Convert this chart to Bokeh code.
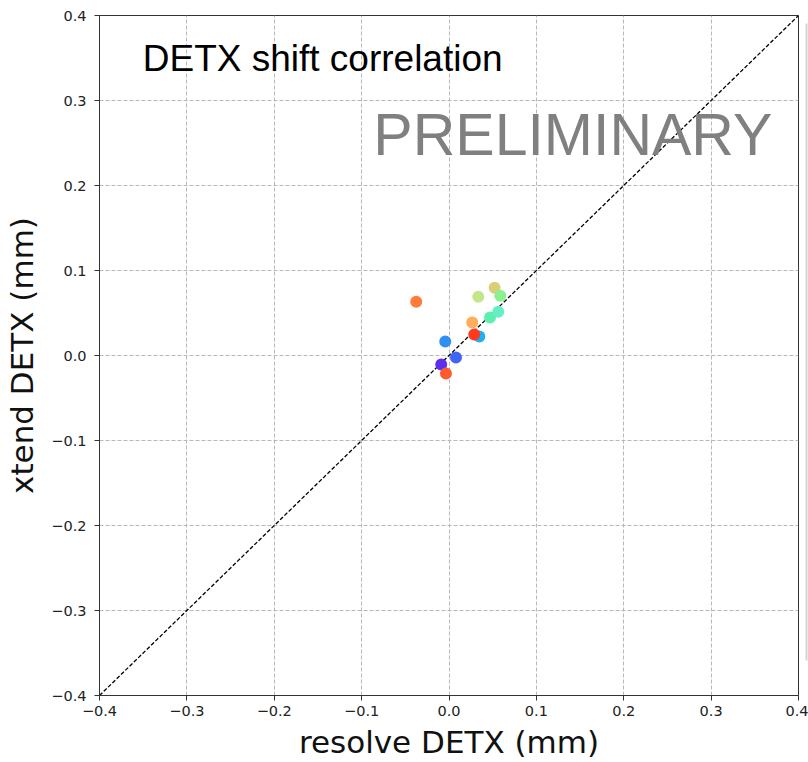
from bokeh.plotting import figure
from bokeh.models import (ColumnDataSource, FixedTicker, Label, ColorBar,
                          LinearColorMapper, Range1d)
from bokeh.embed import file_html
from bokeh.resources import INLINE

# DETX shifts measured by the two instruments (mm)
resolve_detx = [-0.0375, 0.0522, 0.0335, 0.0587, 0.0469, 0.0564, 0.0266,
                0.0347, 0.0289, -0.0043, 0.0080, -0.0089, -0.0035]
xtend_detx = [0.0633, 0.0798, 0.0692, 0.0704, 0.0446, 0.0516, 0.0387,
              0.0223, 0.0246, 0.0164, -0.0023, -0.0106, -0.0211]
point_colors = ["#ff7b3c", "#d8cf78", "#c2e68a", "#8cf08e", "#5cf0b0", "#64f0c4",
                "#ffae5e", "#1ab2f0", "#ff3a1f", "#2f90f2", "#4065f5", "#5b2ef0",
                "#ff5a2e"]

tick_values = [-0.4, -0.3, -0.2, -0.1, 0.0, 0.1, 0.2, 0.3, 0.4]
tick_labels = ["\u22120.4", "\u22120.3", "\u22120.2", "\u22120.1", "0.0",
               "0.1", "0.2", "0.3", "0.4"]
diag = [-0.4, 0.4]

p = figure(width=808, height=762, output_backend="svg", toolbar_location=None,
           x_range=Range1d(-0.4, 0.4), y_range=Range1d(-0.4, 0.4),
           min_border_left=99, min_border_right=10, min_border_top=15,
           min_border_bottom=65)

p.background_fill_color = "white"
p.border_fill_color = "white"
p.outline_line_color = "#333333"
p.outline_line_width = 1

for ax in (p.xaxis[0], p.yaxis[0]):
    ax.ticker = FixedTicker(ticks=tick_values)
    ax.major_label_overrides = {v: s for v, s in zip(tick_values, tick_labels)}
    ax.minor_tick_line_color = None
    ax.major_tick_in = 0
    ax.major_tick_out = 5
    ax.axis_line_color = "#333333"
    ax.major_tick_line_color = "#333333"
    ax.major_label_text_font = "DejaVu Sans"
    ax.major_label_text_font_size = "14.5px"
    ax.major_label_text_color = "#222222"
    ax.axis_label_text_font = "DejaVu Sans"
    ax.axis_label_text_font_size = "31px"
    ax.axis_label_text_font_style = "normal"
    ax.axis_label_text_color = "#111111"

p.xaxis.axis_label = "resolve DETX (mm)"
p.yaxis.axis_label = "xtend DETX (mm)"
p.xaxis.major_label_standoff = 5
p.yaxis.major_label_standoff = 8
p.xaxis.axis_label_standoff = 5
p.yaxis.axis_label_standoff = 8

p.grid.grid_line_color = "#b8b8b8"
p.grid.grid_line_dash = "4 2"
p.grid.grid_line_width = 1

# one-to-one reference line
p.line(diag, diag, line_color="black", line_dash="4 2", line_width=1.3)

src = ColumnDataSource(dict(x=resolve_detx, y=xtend_detx, c=point_colors))
p.scatter("x", "y", source=src, size=12, fill_color="c", line_color=None)

p.add_layout(Label(x=-0.3505, y=0.35, text="DETX shift correlation",
                   text_font="Liberation Sans", text_font_size="37px",
                   text_color="black", text_baseline="middle"))
p.add_layout(Label(x=-0.0866, y=0.259, text="PRELIMINARY",
                   text_font="Liberation Sans", text_font_size="59px",
                   text_color="#808080", text_baseline="middle"))

# edge of the colour scale beside the frame (no ticks, no labels)
cb = ColorBar(color_mapper=LinearColorMapper(palette=["#d4d4d4"], low=0, high=1),
              ticker=FixedTicker(ticks=[]), width=2, height=637, padding=0,
              margin=0, major_tick_line_color=None, minor_tick_line_color=None,
              bar_line_color=None, border_line_color=None,
              background_fill_alpha=0, location=(7, 35))
p.add_layout(cb, "right")

open("out.html", "w").write(file_html(p, INLINE))
